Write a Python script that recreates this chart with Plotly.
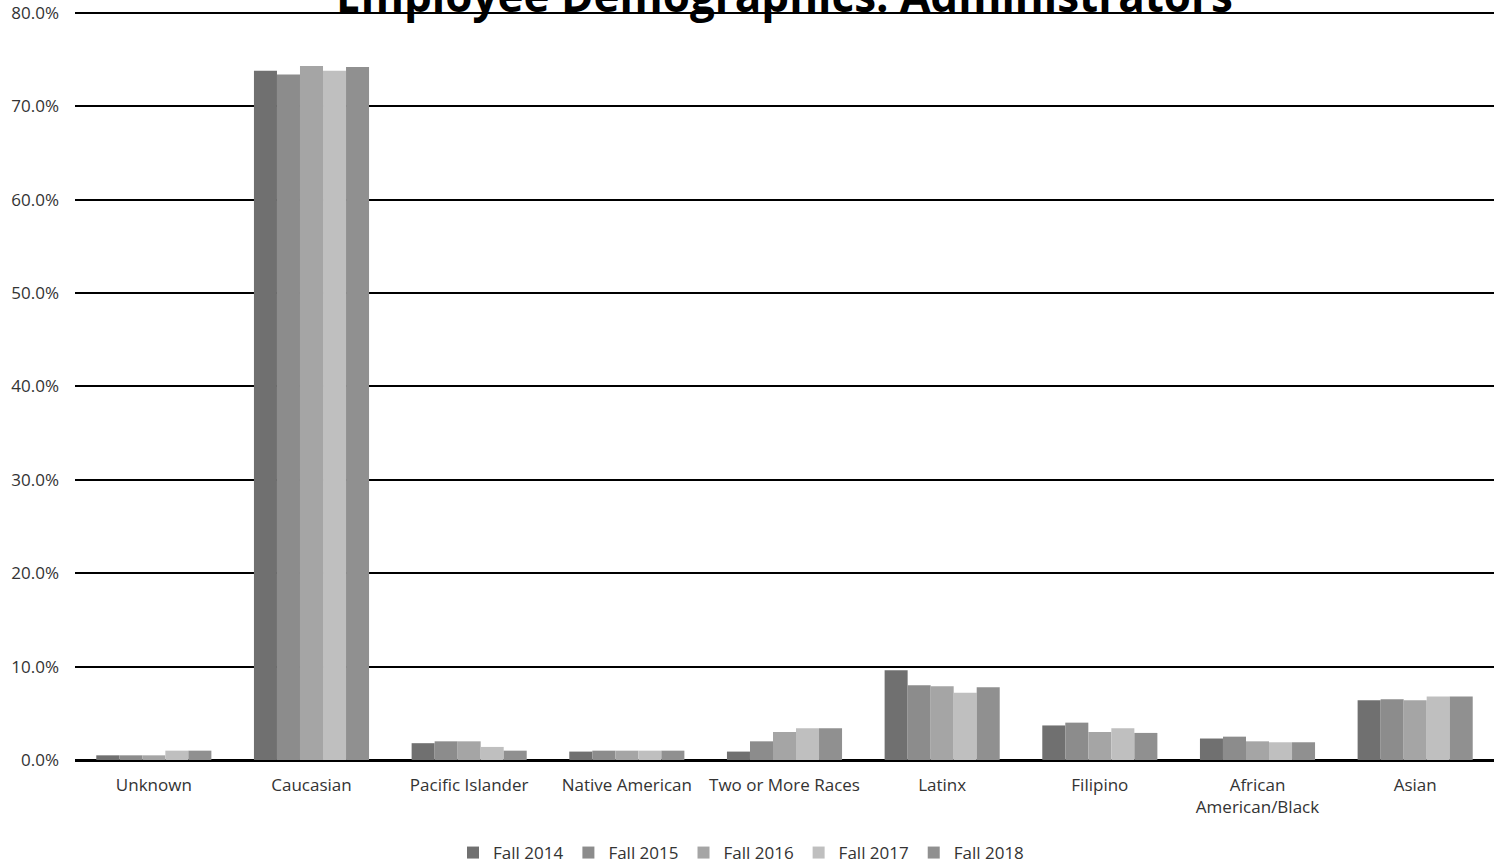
import plotly.graph_objects as go

categories = ["Unknown", "Caucasian", "Pacific Islander", "Native American",
              "Two or More Races", "Latinx", "Filipino",
              "African<br>American/Black", "Asian"]
series_names = ["Fall 2014", "Fall 2015", "Fall 2016", "Fall 2017", "Fall 2018"]

fall_2014 = [0.5, 73.8, 1.8, 0.9, 0.9, 9.6, 3.7, 2.3, 6.4]
fall_2015 = [0.5, 73.4, 2.0, 1.0, 2.0, 8.0, 4.0, 2.5, 6.5]
fall_2016 = [0.5, 74.3, 2.0, 1.0, 3.0, 7.9, 3.0, 2.0, 6.4]
fall_2017 = [1.0, 73.8, 1.4, 1.0, 3.4, 7.2, 3.4, 1.9, 6.8]
fall_2018 = [1.0, 74.2, 1.0, 1.0, 3.4, 7.8, 2.9, 1.9, 6.8]

y_ticks = [0, 10, 20, 30, 40, 50, 60, 70, 80]
y_tick_labels = ["0.0%", "10.0%", "20.0%", "30.0%", "40.0%", "50.0%", "60.0%", "70.0%", "80.0%"]

colors = ["#707070", "#8c8c8c", "#a5a5a5", "#bfbfbf", "#909090"]
series = [fall_2014, fall_2015, fall_2016, fall_2017, fall_2018]

FONT = "Open Sans"

fig = go.Figure()
for name, vals, col in zip(series_names, series, colors):
    fig.add_trace(go.Bar(x=categories, y=vals, name=name,
                         marker=dict(color=col, line=dict(width=0))))

fig.update_layout(
    width=1494, height=865,
    barmode="group", bargap=0.27, bargroupgap=0,
    plot_bgcolor="white", paper_bgcolor="white",
    margin=dict(l=75, r=0, t=11, b=105, autoexpand=False),
    font=dict(family=FONT, color="#333333", size=17),
    title=dict(text="<b>Employee Demographics: Administrators</b>",
               x=0.5, xanchor="center", xref="paper",
               y=1 - 12 / 865, yanchor="bottom", yref="container",
               font=dict(family=FONT, size=44, color="#000000")),
    legend=dict(orientation="h", x=0.496, xanchor="center", xref="container",
                y=(865 - 853) / 865, yanchor="middle", yref="container",
                font=dict(family=FONT, size=17, color="#333333"),
                itemwidth=30, traceorder="normal"),
    showlegend=True,
)
fig.update_xaxes(showgrid=False, showline=False, ticks="", automargin=False,
                 ticklabelstandoff=13,
                 tickfont=dict(family=FONT, size=17, color="#333333"))
fig.update_yaxes(range=[0, 80.2], tickvals=y_ticks, ticktext=y_tick_labels,
                 showgrid=True, gridcolor="#000000", gridwidth=1.5,
                 zeroline=True, zerolinecolor="#000000", zerolinewidth=2.5,
                 ticks="", ticklabelstandoff=15, automargin=False,
                 ticklabeloverflow="allow",
                 tickfont=dict(family=FONT, size=17, color="#333333"))

fig.write_html("out.html",
               config={"displayModeBar": False},
               post_script="document.body.style.margin='0px';document.body.style.overflow='hidden';")
